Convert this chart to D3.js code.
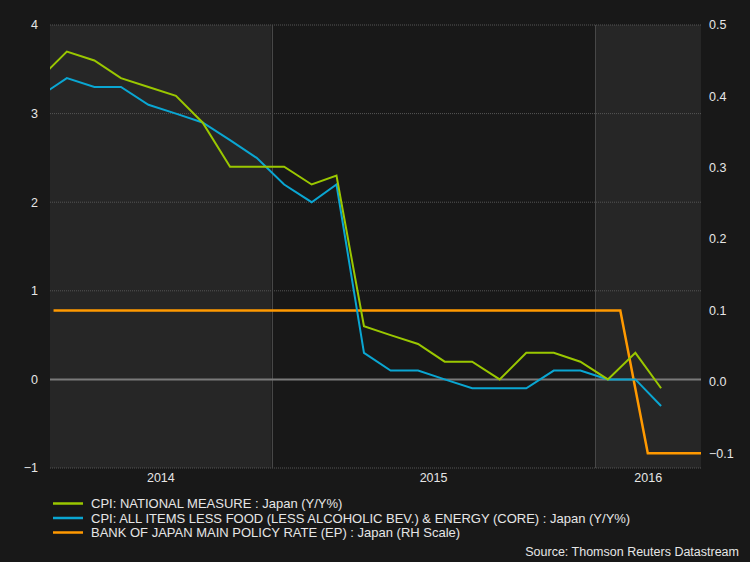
<!DOCTYPE html>
<html><head><meta charset="utf-8">
<script src="https://cdn.jsdelivr.net/npm/d3@7"></script>
<style>body{margin:0;background:#181818;}svg{display:block;}</style>
</head><body><svg id="c" width="750" height="562"></svg>
<script>
// ---- data ----
const cpiMonths = ["2014-04","2014-05","2014-06","2014-07","2014-08","2014-09","2014-10","2014-11","2014-12",
  "2015-01","2015-02","2015-03","2015-04","2015-05","2015-06","2015-07","2015-08","2015-09","2015-10","2015-11","2015-12",
  "2016-01","2016-02","2016-03"];
const cpiNational = [3.4,3.7,3.6,3.4,3.3,3.2,2.9,2.4,2.4, 2.4,2.2,2.3,0.6,0.5,0.4,0.2,0.2,0.0,0.3,0.3,0.2, 0.0,0.3,-0.1];
const cpiCore = [3.2,3.4,3.3,3.3,3.1,3.0,2.9,2.7,2.5, 2.2,2.0,2.2,0.3,0.1,0.1,0.0,-0.1,-0.1,-0.1,0.1,0.1, 0.0,0.0,-0.3];
const rateDates = ["2014-04-30","2014-05-30","2014-06-30","2014-07-31","2014-08-29","2014-09-30","2014-10-31","2014-11-28","2014-12-31",
  "2015-01-30","2015-02-27","2015-03-31","2015-04-30","2015-05-29","2015-06-30","2015-07-31","2015-08-31","2015-09-30","2015-10-30","2015-11-30","2015-12-31",
  "2016-01-29","2016-02-29","2016-03-31","2016-04-29"];
const policyRate = [0.1,0.1,0.1,0.1,0.1,0.1,0.1,0.1,0.1, 0.1,0.1,0.1,0.1,0.1,0.1,0.1,0.1,0.1,0.1,0.1,0.1, 0.1,-0.1,-0.1,-0.1];
const leftTicks = [-1,0,1,2,3,4];
const rightTicks = [-0.1,0.0,0.1,0.2,0.3,0.4,0.5];
const yearLabels = ["2014","2015","2016"];
const legendLabels = ["CPI: NATIONAL MEASURE : Japan (Y/Y%)",
  "CPI: ALL ITEMS LESS FOOD (LESS ALCOHOLIC BEV.) & ENERGY (CORE) : Japan (Y/Y%)",
  "BANK OF JAPAN MAIN POLICY RATE (EP) : Japan (RH Scale)"];
const sourceText = "Source: Thomson Reuters Datastream";

// ---- layout ----
const L = 50, R = 701, T = 25, B = 468;
const colors = ["#9ac700","#0aa6d2","#ff9900"];
const font = "'Liberation Sans', Arial, sans-serif";
const parse = d3.timeParse("%Y-%m-%d");
const domainStart = parse("2014-04-26"), domainEnd = parse("2016-04-29");
const x = d3.scaleTime().domain([domainStart, domainEnd]).range([L, R]);
const yL = d3.scaleLinear().domain([-1, 4]).range([B, T]);
const yR = d3.scaleLinear().domain([-0.1208, 0.5]).range([B, T]);

const svg = d3.select("#c");
svg.append("rect").attr("width",750).attr("height",562).attr("fill","#181818");

// year bands
const yearStarts = yearLabels.map(y => parse(y + "-01-01"));
const bands = yearLabels.map((y,i) => {
  const s = d3.max([yearStarts[i], domainStart]);
  const e = i < yearLabels.length - 1 ? yearStarts[i+1] : domainEnd;
  return {label: y, s, e: d3.min([e, domainEnd]), shade: i % 2 === 0};
});
svg.append("g").selectAll("rect").data(bands).join("rect")
  .attr("x", d => x(d.s)).attr("y", T).attr("width", d => x(d.e) - x(d.s)).attr("height", B - T)
  .attr("fill", d => d.shade ? "#262626" : "#181818");

// gridlines
svg.append("g").selectAll("line").data(leftTicks.filter(v => v !== 0)).join("line")
  .attr("x1", L).attr("x2", R).attr("y1", d => yL(d)).attr("y2", d => yL(d))
  .attr("stroke", "#555").attr("stroke-width", 1).attr("stroke-dasharray", "1,1");
svg.append("g").selectAll("line").data(yearStarts.slice(1)).join("line")
  .attr("x1", d => Math.round(x(d)) + 0.5).attr("x2", d => Math.round(x(d)) + 0.5).attr("y1", T).attr("y2", B)
  .attr("stroke", "#474747").attr("stroke-width", 1);
svg.append("line").attr("x1", L).attr("x2", R).attr("y1", yL(0)).attr("y2", yL(0))
  .attr("stroke", "#7a7a7a").attr("stroke-width", 2);

// axes labels
svg.append("g").selectAll("text").data(leftTicks).join("text")
  .attr("x", 38).attr("y", d => yL(d)).attr("dy", "0.35em").attr("text-anchor", "end")
  .attr("fill", "#e6e6e6").attr("font-family", font).attr("font-size", 12.5).text(d => d3.format("d")(d));
svg.append("g").selectAll("text").data(rightTicks).join("text")
  .attr("x", 709).attr("y", d => yR(d)).attr("dy", "0.35em").attr("text-anchor", "start")
  .attr("fill", "#e6e6e6").attr("font-family", font).attr("font-size", 12.5).text(d => d3.format(".1f")(d));
svg.append("g").selectAll("text").data(bands).join("text")
  .attr("x", d => (x(d.s) + x(d.e)) / 2).attr("y", 482).attr("text-anchor", "middle")
  .attr("fill", "#e6e6e6").attr("font-family", font).attr("font-size", 12.5).text(d => d.label);

// clip
svg.append("clipPath").attr("id","clip").append("rect").attr("x", L).attr("y", T).attr("width", R - L).attr("height", B - T);
const plot = svg.append("g").attr("clip-path", "url(#clip)");

const cpiDates = cpiMonths.map(m => parse(m + "-15"));
const lineL = d3.line().x(d => x(d[0])).y(d => yL(d[1]));
const lineR = d3.line().x(d => x(d[0])).y(d => yR(d[1]));
plot.append("path").datum(rateDates.map((d,i) => [parse(d), policyRate[i]]))
  .attr("d", lineR).attr("fill","none").attr("stroke", colors[2]).attr("stroke-width", 2.5);
plot.append("path").datum(cpiDates.map((d,i) => [d, cpiCore[i]]))
  .attr("d", lineL).attr("fill","none").attr("stroke", colors[1]).attr("stroke-width", 2);
plot.append("path").datum(cpiDates.map((d,i) => [d, cpiNational[i]]))
  .attr("d", lineL).attr("fill","none").attr("stroke", colors[0]).attr("stroke-width", 2);

// legend
const lg = svg.append("g").selectAll("g").data(legendLabels).join("g")
  .attr("transform", (d,i) => `translate(53,${503.5 + i*14.5})`);
lg.append("line").attr("x1", 0).attr("x2", 30).attr("stroke", (d,i) => colors[i]).attr("stroke-width", 2.5);
lg.append("text").attr("x", 38).attr("dy", "0.36em").attr("fill", "#e6e6e6")
  .attr("font-family", font).attr("font-size", 13).text(d => d);

svg.append("text").attr("x", 739).attr("y", 556).attr("text-anchor", "end").attr("fill", "#e6e6e6")
  .attr("font-family", font).attr("font-size", 12.5).text(sourceText);
</script></body></html>
